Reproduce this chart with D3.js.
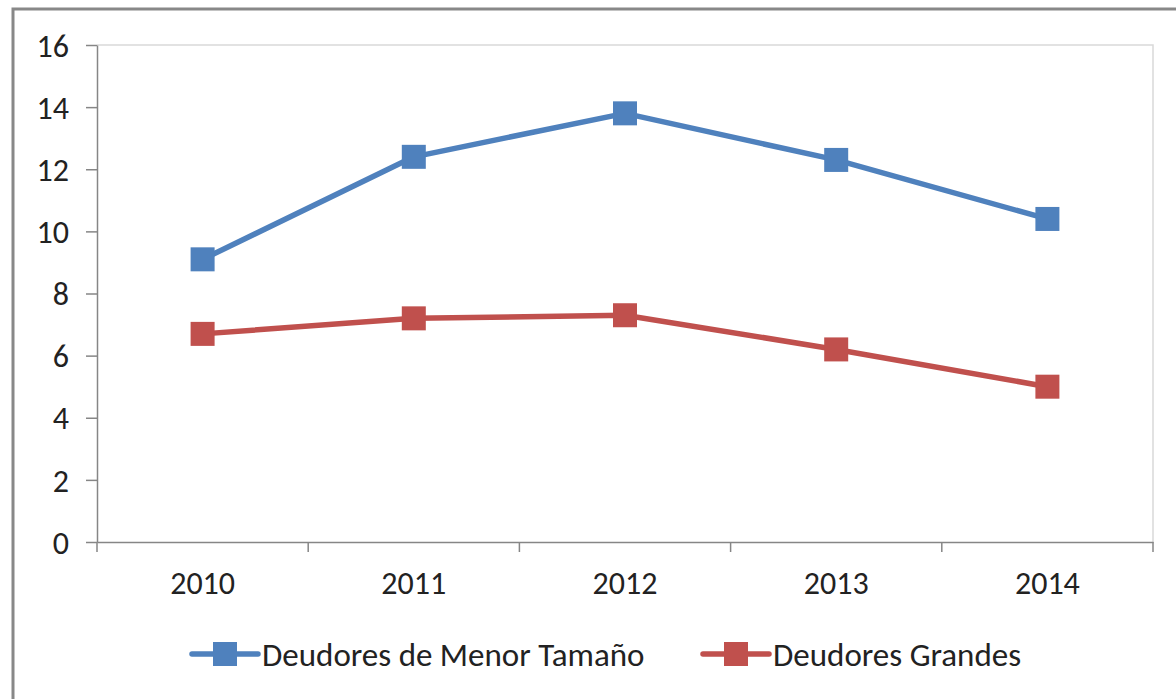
<script src="https://d3js.org/d3.v7.min.js"></script>
<style>
  body { margin: 0; background: #fff; }
  svg text { font-family: Carlito, Lato, "Open Sans", sans-serif; fill: #222; }
</style>
<svg id="chart" width="1176" height="699"></svg>
<script>
  const years = ["2010", "2011", "2012", "2013", "2014"];
  const menorValues = [9.1, 12.4, 13.8, 12.3, 10.4];
  const grandesValues = [6.7, 7.2, 7.3, 6.2, 5.0];
  const yTicks = [0, 2, 4, 6, 8, 10, 12, 14, 16];
  const seriesNames = ["Deudores de Menor Tamaño", "Deudores Grandes"];

  const colors = ["#4f81bd", "#c0504d"];
  const series = [menorValues, grandesValues];

  const svg = d3.select("#chart");

  // outer frame
  svg.append("rect")
    .attr("x", 13).attr("y", 9)
    .attr("width", 1200).attr("height", 720)
    .attr("fill", "none")
    .attr("stroke", "#888")
    .attr("stroke-width", 3);

  const plotLeft = 97, plotRight = 1153, plotTop = 45, plotBottom = 542;

  const x = d3.scaleBand().domain(years).range([plotLeft, plotRight]);
  const y = d3.scaleLinear().domain([0, 16]).range([plotBottom, plotTop]);

  // plot area border (top + right)
  svg.append("path")
    .attr("d", `M${plotLeft},${plotTop}H${plotRight}V${plotBottom}`)
    .attr("fill", "none")
    .attr("stroke", "#d9d9d9")
    .attr("stroke-width", 1.5);

  // y axis
  const yAxis = svg.append("g")
    .attr("transform", `translate(${plotLeft},0)`)
    .call(d3.axisLeft(y).tickValues(yTicks).tickSize(11).tickSizeOuter(0).tickPadding(17));
  yAxis.select(".domain").attr("stroke", "#868686").attr("stroke-width", 1.5);
  yAxis.selectAll(".tick line").attr("stroke", "#868686").attr("stroke-width", 1.5);
  yAxis.selectAll("text").style("font-size", "32px").attr("dy", "0.35em");

  // x axis
  const xAxis = svg.append("g")
    .attr("transform", `translate(0,${plotBottom})`)
    .call(d3.axisBottom(x).tickSize(0).tickSizeOuter(0).tickPadding(29));
  xAxis.select(".domain").attr("stroke", "#868686").attr("stroke-width", 1.5);
  xAxis.selectAll("text").style("font-size", "32px");

  // tick marks between categories
  const edges = years.map(d => x(d)).concat([x(years[years.length - 1]) + x.bandwidth()]);
  svg.append("g").selectAll("line")
    .data(edges)
    .enter().append("line")
    .attr("x1", d => d).attr("x2", d => d)
    .attr("y1", plotBottom).attr("y2", plotBottom + 10)
    .attr("stroke", "#868686")
    .attr("stroke-width", 1.5);

  const cx = d => x(d) + x.bandwidth() / 2;
  const line = d3.line()
    .x((d, i) => cx(years[i]))
    .y(d => y(d));

  const sq = 24;
  series.forEach((vals, s) => {
    svg.append("path")
      .datum(vals)
      .attr("d", line)
      .attr("fill", "none")
      .attr("stroke", colors[s])
      .attr("stroke-width", 5.5)
      .attr("stroke-linejoin", "round");

    svg.append("g").selectAll("rect")
      .data(vals)
      .enter().append("rect")
      .attr("x", (d, i) => cx(years[i]) - sq / 2)
      .attr("y", d => y(d) - sq / 2)
      .attr("width", sq).attr("height", sq)
      .attr("fill", colors[s]);
  });

  // legend
  const legendX = [192, 703];
  const legendY = 654;
  const lg = svg.append("g").selectAll("g")
    .data(seriesNames)
    .enter().append("g")
    .attr("transform", (d, i) => `translate(${legendX[i]},${legendY})`);
  lg.append("line")
    .attr("x1", 0).attr("x2", 66)
    .attr("stroke", (d, i) => colors[i])
    .attr("stroke-width", 5.5)
    .attr("stroke-linecap", "round");
  lg.append("rect")
    .attr("x", 33 - sq / 2).attr("y", -sq / 2)
    .attr("width", sq).attr("height", sq)
    .attr("fill", (d, i) => colors[i]);
  lg.append("text")
    .attr("x", 70)
    .attr("dy", "0.35em")
    .style("font-size", "33px")
    .text(d => d);
</script>
